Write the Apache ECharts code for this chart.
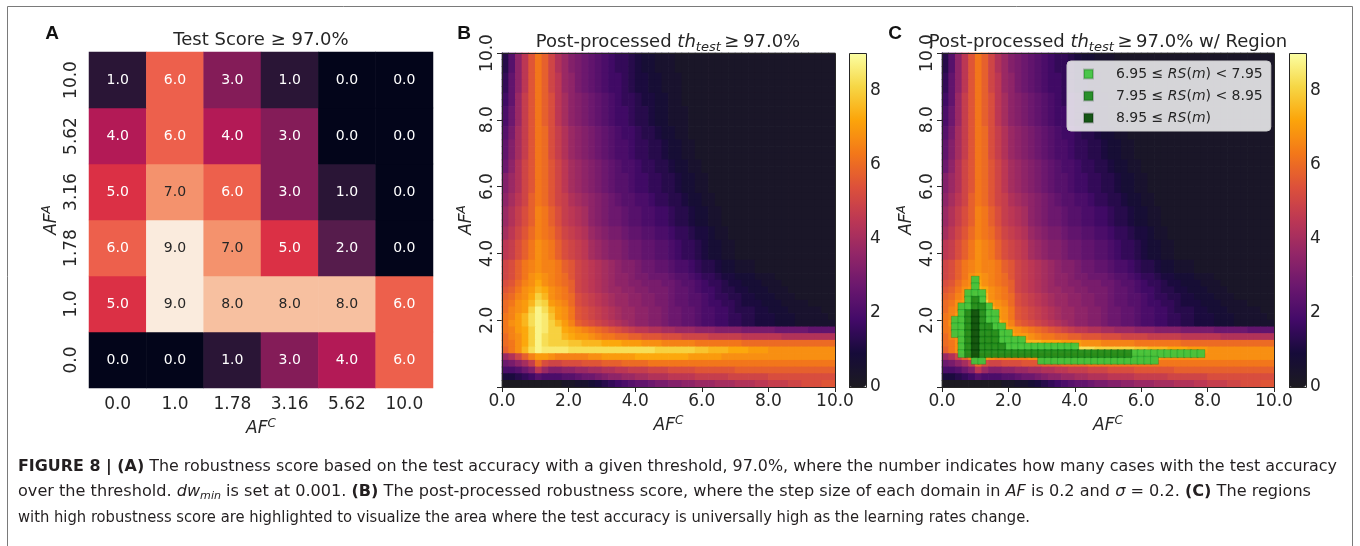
<!DOCTYPE html>
<html>
<head>
<meta charset="utf-8">
<title>Figure 8</title>
<script src="https://cdn.jsdelivr.net/npm/echarts@6.0.0/dist/echarts.min.js"></script>
<style>
html,body{margin:0;padding:0;background:#ffffff;}
#chart{width:1360px;height:546px;}
</style>
</head>
<body>
<div id="chart"></div>
<script>
// ======================= DATA =======================
// Panel A: robustness score (number of cases whose test accuracy >= 97.0%)
const afTickLabels = ['0.0', '1.0', '1.78', '3.16', '5.62', '10.0'];  // AF^C (x) and AF^A (y)
const scoreAtAFA_0_0  = [0, 0, 1, 3, 4, 6];
const scoreAtAFA_1_0  = [5, 9, 8, 8, 8, 6];
const scoreAtAFA_1_78 = [6, 9, 7, 5, 2, 0];
const scoreAtAFA_3_16 = [5, 7, 6, 3, 1, 0];
const scoreAtAFA_5_62 = [4, 6, 4, 3, 0, 0];
const scoreAtAFA_10_0 = [1, 6, 3, 1, 0, 0];

// Panels B and C: post-processed robustness score, 50 x 50 cells (step 0.2 in AF).
// One string per row, top row (AF^A 9.8-10.0) first; one character per cell, AF^C 0.0 -> 10.0.
// Cell value = base-36 digit / 4. A row shorter than 50 repeats its last character.
const heatRows = [
  "59eimpnkhfdcba9876654332221",
  "59eimpnkhfdcba9876654332221",
  "59eimpnkhfdcba9876654332221",
  "6aeimpnkifecba98776544332221",
  "6aeimpnkifecba98776544332221",
  "6aeimpnkifecba98776544332221",
  "7afjmpnligedcba9876654433221",
  "7afjmpnligedcba9876654433221",
  "8bfjmpnligedcba98776554332221",
  "8bfjmpnligedcba98776554332221",
  "8bfjmpnligedcba98776554332221",
  "9cgjmpoljhfedcba9877655433221",
  "9cgjmpoljhfedcba9877655433221",
  "adgjmpoljhfedcba98876655433221",
  "adgjmpoljhfedcba98876655433221",
  "adgjmpoljhfedcba98876655433221",
  "behkmpomkigfedcba98876655433221",
  "behkmpomkigfedcba98876655433221",
  "dfhkmpomkigfedcba998776655433221",
  "dfhkmpomkigfedcba998776655433221",
  "dfhkmpomkigfedcba998776655433221",
  "egiknpomkjhgfedcba998876655433221",
  "egiknpomkjhgfedcba998876655433221",
  "fhjlnqpnljihgedcbba998877655433221",
  "fhjlnqpnljihgedcbba998877655433221",
  "fhjlnqpnljihgedcbba998877655433221",
  "gikmoqpomkjihfedccbaa99887665443221",
  "gikmoqpomkjihfedccbaa99887665443221",
  "ijlnprqpnlkjigfeddcbbaa9987665433221",
  "ijlnprqpnlkjigfeddcbbaa9987665433221",
  "ijlnprqpnlkjigfeddcbbaa9987665433221",
  "klnpqrqqpnmkjihgfeddcbbaa98876554332221",
  "klnpqrqqpnmkjihgfeddcbbaa98876554332221",
  "klnprsrqpomkjihgfeedccbbba9987665443332221",
  "lmoqrtrqponkjihgfeeddcccbba9987665443332221",
  "mnprsutrqpnkjihgffeeddcccbaa9877655443332221",
  "noqrtwurqpolkjihgffeeddccbaa99876655443332221",
  "oprsuxwsrqolkjihgffeeddccbaa9987766544433322221",
  "oqrswzxusrpmlkjihgffeeddcbbaa98877655544333222221",
  "pqsuxzyvsrpmlkjihgffeeddcbbaa988776655444333222221",
  "prsuxzywusqnmlkjihgfeeddcbbaa988776655444333222222",
  "pqstwzywwtsrqponmlkjiihhggfffeeeddddcccccbbbbbaaaa",
  "oqrtwzxwwutssrqppoonnmmmlllkkkkjjjjjiiiiiihhhhhhhh",
  "oprtwzxwwwvvuuutttsssrrrqqqqqpppppppo",
  "npruxzyyyyxxxxxxxxxxxxxwwwwwwvvuuutttsssr",
  "fhknqssrqqqqqrrsssssttttttttsssssr",
  "bcegjolkklllmmmnnnoooop",
  "889bdifddeeffgghhiijjjkkkllllmmmmmmn",
  "44567988899abbcdeeffgghhhiiiijjjjjkkkkkkl",
  "00000000011223456789aabccddeefffggghhhiijjjkklllmm"
];

// Panel C: highlighted region on the AF grid points (0.2 steps), rows from AF^A = 3.2 down to 0.8.
// '.' none, 'a': 6.95 <= RS(m) < 7.95, 'b': 7.95 <= RS(m) < 8.95, 'c': 8.95 <= RS(m)
const regionTopAFA = 3.2;
const regionRows = [
  ".....a",
  ".....a",
  "....aaa",
  "....aba",
  "...aabba",
  "...abcbaa",
  "..aabcbaa",
  "..aabcbbaa",
  "..aabcbbbaa",
  "...abcbbbaaaa",
  "...abcbbbbaaaaaaaaaaa",
  "...abcbbbbbbbbbbbbbbbbbbbbbbbaaaaaaaaaaa",
  ".....aa........aaaaaaaaaaaaaaaaaa"
];
const regionNames = ['low', 'mid', 'high'];
const regionLegend = {
  low:  '{sp| }{n|6.95 ≤ }{i|RS}{n|(}{i|m}{n|) < 7.95}',
  mid:  '{sp| }{n|7.95 ≤ }{i|RS}{n|(}{i|m}{n|) < 8.95}',
  high: '{sp| }{n|8.95 ≤ }{i|RS}{n|(}{i|m}{n|)}'
};

const axisTicksAF = [0, 2, 4, 6, 8, 10];
const colorbarTicks = [0, 2, 4, 6, 8];

// caption lines as [style, text] segments (n normal, b bold, i italic, sub subscript)
const captionLine1 = [['b', 'FIGURE 8 | (A)'], ['n', ' The robustness score based on the test accuracy with a given threshold, 97.0%, where the number indicates how many cases with the test accuracy']];
const captionLine2 = [['n', 'over the threshold. '], ['i', 'dw'], ['sub', 'min'], ['n', ' is set at 0.001. '], ['b', '(B)'],
  ['n', ' The post-processed robustness score, where the step size of each domain in '], ['i', 'AF'], ['n', ' is 0.2 and '], ['i', 'σ'],
  ['n', ' = 0.2. '], ['b', '(C)'], ['n', ' The regions']];
const captionLine3 = [['n', 'with high robustness score are highlighted to visualize the area where the test accuracy is universally high as the learning rates change.']];

// ======================= BUILD =======================
const FONT = "'DejaVu Sans', sans-serif";
const TXT = '#262626';
const rocket = ['#03051a', '#35193e', '#701f57', '#ad1759', '#e13342', '#f37651', '#f6b48f', '#faebdd'];
const inferno = ['#1c1a21', '#160b39', '#420a68', '#6a176e', '#932667', '#bc3754', '#dd513a', '#f37819', '#fca50a', '#f6d746', '#fcffa4'];

const scoreRows = [scoreAtAFA_0_0, scoreAtAFA_1_0, scoreAtAFA_1_78, scoreAtAFA_3_16, scoreAtAFA_5_62, scoreAtAFA_10_0];
const scoreData = [];
scoreRows.forEach((row, yi) => row.forEach((v, xi) => {
  scoreData.push({ value: [xi, yi, v], label: { color: v >= 7 ? TXT : '#ffffff' } });
}));

const N = 50;
const cats = Array.from({ length: N }, (_, k) => String(k));
const heatData = [];
heatRows.forEach((s, k) => {
  const r = heatRows.length - 1 - k;
  const full = s.padEnd(N, s[s.length - 1]).slice(0, N);
  for (let c = 0; c < N; c++) heatData.push([c, r, parseInt(full[c], 36) / 4]);
});

const region = { a: [], b: [], c: [] };
regionRows.forEach((s, k) => {
  const yv = +(regionTopAFA - 0.2 * k).toFixed(1);
  for (let i = 0; i < s.length; i++) {
    if (region[s[i]]) region[s[i]].push([+(0.2 * i).toFixed(1), yv]);
  }
});

// heat cells drawn through the (hidden) category axes, slightly overlapped to avoid seams
function renderCell(params, api) {
  const p = api.coord([api.value(0), api.value(1)]);
  const s = api.size([1, 1]);
  return { type: 'rect',
    shape: { x: p[0] - s[0] / 2 - 0.35, y: p[1] - s[1] / 2 - 0.35, width: s[0] + 0.7, height: s[1] + 0.7 },
    style: { fill: api.visual('color') } };
}

const nameRich = {
  i: { fontFamily: FONT, fontStyle: 'italic', fontSize: 17, color: TXT, lineHeight: 22 },
  sup: { fontFamily: FONT, fontStyle: 'italic', fontSize: 12, color: TXT, lineHeight: 12, verticalAlign: 'top' }
};
const tickLabel = { fontFamily: FONT, fontSize: 17, color: TXT };

function catAxisA(isY) {
  return {
    type: 'category', gridIndex: 0, data: afTickLabels,
    axisLine: { show: false }, axisTick: { show: false }, splitLine: { show: false },
    axisLabel: Object.assign({}, tickLabel, isY ? { rotate: 90, margin: 9 } : { margin: 8 }),
    name: isY ? '{i|AF}{sup|A}' : '{i|AF}{sup|C}', nameLocation: 'middle',
    nameGap: isY ? 26 : 24, nameTextStyle: { rich: nameRich }
  };
}
function hiddenCat(gi) { return { type: 'category', gridIndex: gi, data: cats, show: false }; }
function valAxis(gi, isY) {
  return {
    type: 'value', gridIndex: gi, min: 0, max: 10, interval: 2,
    position: isY ? 'left' : 'bottom',
    axisLine: { show: true, onZero: false, lineStyle: { color: TXT, width: 1 } },
    axisTick: { show: true, length: 5, lineStyle: { color: TXT } },
    splitLine: { show: false },
    axisLabel: Object.assign({}, tickLabel, isY
      ? { rotate: 90, margin: 6, formatter: v => (v === 0 ? '' : v.toFixed(1)) }
      : { margin: 6, formatter: v => v.toFixed(1) }),
    name: isY ? '{i|AF}{sup|A}' : '{i|AF}{sup|C}', nameLocation: 'middle',
    nameGap: isY ? 24 : 25, nameTextStyle: { rich: nameRich }
  };
}
function cbX(gi) { return { type: 'value', gridIndex: gi, show: false, min: 0, max: 1 }; }
function cbY(gi) {
  return {
    type: 'value', gridIndex: gi, min: 0, max: 9, position: 'right',
    axisLine: { show: false }, splitLine: { show: false },
    axisTick: { show: true, length: 5, lineStyle: { color: TXT }, customValues: colorbarTicks },
    axisLabel: Object.assign({}, tickLabel, { margin: 4, customValues: colorbarTicks })
  };
}

const titleRich = {
  n: { fontFamily: FONT, fontSize: 18, fill: TXT, color: TXT, lineHeight: 24 },
  i: { fontFamily: FONT, fontSize: 18, fontStyle: 'italic', fill: TXT, color: TXT, lineHeight: 24 },
  sub: { fontFamily: FONT, fontSize: 13, fontStyle: 'italic', fill: TXT, color: TXT, lineHeight: 13, verticalAlign: 'bottom' }
};
function titleText(x, y, text) {
  return { type: 'text', x: x, y: y, z: 50, silent: true,
    style: { text: text, rich: titleRich, align: 'center', textAlign: 'center', verticalAlign: 'middle', textVerticalAlign: 'middle',
      fontFamily: FONT, fontSize: 18, fill: TXT } };
}
function panelLetter(x, y, t) {
  return { type: 'text', x: x, y: y, z: 50, silent: true,
    style: { text: t, align: 'center', textAlign: 'center', verticalAlign: 'middle', textVerticalAlign: 'middle',
      fontFamily: "'Liberation Sans', Arial, sans-serif", fontWeight: 'bold', fontSize: 19, fill: '#111' } };
}
function frame(x, y, w, h) {
  return { type: 'rect', z: 60, silent: true, shape: { x: x + 0.5, y: y + 0.5, width: w, height: h },
    style: { fill: 'none', stroke: TXT, lineWidth: 1 } };
}

// caption: each line fitted to the width it has in the figure
const capFam = "'Liberation Sans Narrow', 'Arial Narrow', 'Nimbus Sans Narrow', 'DejaVu Sans Condensed', 'Liberation Sans', Arial, sans-serif";
const CAP = 16;
const capColor = '#231f20';
const capFonts = {
  n: 'normal normal ' + CAP + 'px ' + capFam,
  b: 'normal bold ' + CAP + 'px ' + capFam,
  i: 'italic normal ' + CAP + 'px ' + capFam,
  sub: 'italic normal 11px ' + capFam
};
const mctx = document.createElement('canvas').getContext('2d');
function segWidth(segs) { return segs.reduce((w, s) => { mctx.font = capFonts[s[0]]; return w + mctx.measureText(s[1]).width; }, 0); }
function segRich(segs) { return segs.map(s => '{' + s[0] + '|' + s[1] + '}').join(''); }
const capRich = {
  n: { fontFamily: capFam, fontSize: CAP, fill: capColor, lineHeight: 20 },
  b: { fontFamily: capFam, fontSize: CAP, fontWeight: 'bold', fill: capColor, lineHeight: 20 },
  i: { fontFamily: capFam, fontSize: CAP, fontStyle: 'italic', fill: capColor, lineHeight: 20 },
  sub: { fontFamily: capFam, fontSize: 11, fontStyle: 'italic', fill: capColor, lineHeight: 11, verticalAlign: 'bottom' }
};
function capLine(y, segs, right) {
  const sx = (right - 18) / segWidth(segs);
  return { type: 'text', x: 18, y: y, scaleX: sx, scaleY: 1, z: 50, silent: true,
    style: { text: segRich(segs), rich: capRich, align: 'left', textAlign: 'left', verticalAlign: 'middle', textVerticalAlign: 'middle',
      fontFamily: capFam, fontSize: CAP, fill: capColor } };
}

const option = {
  animation: false,
  backgroundColor: '#ffffff',
  textStyle: { fontFamily: FONT },
  grid: [
    { left: 89, top: 52, width: 344, height: 336 },
    { left: 502, top: 53, width: 333, height: 334 },
    { left: 942, top: 53, width: 332, height: 334 },
    { left: 849, top: 53, width: 17, height: 334 },
    { left: 1289, top: 53, width: 17, height: 334 }
  ],
  xAxis: [catAxisA(false), hiddenCat(1), valAxis(1, false), hiddenCat(2), valAxis(2, false), cbX(3), cbX(4)],
  yAxis: [catAxisA(true), hiddenCat(1), valAxis(1, true), hiddenCat(2), valAxis(2, true), cbY(3), cbY(4)],
  visualMap: [
    { type: 'continuous', seriesIndex: 0, dimension: 2, min: 0, max: 9, show: false, inRange: { color: rocket } },
    { type: 'continuous', seriesIndex: 1, dimension: 2, min: 0, max: 9, show: true, calculable: false, hoverLink: false,
      left: 849, top: 53, itemWidth: 17, itemHeight: 334, padding: 0, orient: 'vertical', inRange: { color: inferno } },
    { type: 'continuous', seriesIndex: 2, dimension: 2, min: 0, max: 9, show: true, calculable: false, hoverLink: false,
      left: 1289, top: 53, itemWidth: 17, itemHeight: 334, padding: 0, orient: 'vertical', inRange: { color: inferno } }
  ],
  legend: {
    data: regionNames, orient: 'vertical', left: 1067, top: 61,
    itemWidth: 9, itemHeight: 9, itemGap: 2, icon: 'rect',
    padding: [3, 8, 3, 16], backgroundColor: 'rgba(255,255,255,0.82)', borderColor: '#cccccc', borderWidth: 1, borderRadius: 4,
    selectedMode: false,
    formatter: name => regionLegend[name],
    textStyle: { fontFamily: FONT, fontSize: 14, color: TXT, lineHeight: 20,
      rich: {
        sp: { width: 18, fontSize: 14, lineHeight: 20 },
        n: { fontFamily: FONT, fontSize: 14, color: TXT, lineHeight: 20 },
        i: { fontFamily: FONT, fontSize: 14, fontStyle: 'italic', color: TXT, lineHeight: 20 }
      } }
  },
  series: [
    { type: 'heatmap', xAxisIndex: 0, yAxisIndex: 0, data: scoreData,
      label: { show: true, fontFamily: FONT, fontSize: 14, formatter: p => p.value[2].toFixed(1) },
      emphasis: { disabled: true } },
    { type: 'custom', xAxisIndex: 1, yAxisIndex: 1, data: heatData, renderItem: renderCell,
      encode: { x: 0, y: 1 }, silent: true },
    { type: 'custom', xAxisIndex: 3, yAxisIndex: 3, data: heatData, renderItem: renderCell,
      encode: { x: 0, y: 1 }, silent: true },
    { type: 'scatter', name: 'low', xAxisIndex: 4, yAxisIndex: 4, data: region.a, symbol: 'rect', symbolSize: 8, z: 5,
      itemStyle: { color: '#3ec43e', opacity: 0.92, borderColor: 'rgba(0,60,0,0.25)', borderWidth: 0.8 } },
    { type: 'scatter', name: 'mid', xAxisIndex: 4, yAxisIndex: 4, data: region.b, symbol: 'rect', symbolSize: 8, z: 5,
      itemStyle: { color: '#1a8a1a', opacity: 0.92, borderColor: 'rgba(0,40,0,0.25)', borderWidth: 0.8 } },
    { type: 'scatter', name: 'high', xAxisIndex: 4, yAxisIndex: 4, data: region.c, symbol: 'rect', symbolSize: 8, z: 5,
      itemStyle: { color: '#0b4f0b', opacity: 0.95, borderColor: 'rgba(0,20,0,0.25)', borderWidth: 0.8 } }
  ],
  graphic: [
    { type: 'line', silent: true, z: 40, shape: { x1: 7.5, y1: 6.5, x2: 1352.5, y2: 6.5 }, style: { stroke: '#7a7a7a', lineWidth: 1 } },
    { type: 'line', silent: true, z: 40, shape: { x1: 7.5, y1: 6.5, x2: 7.5, y2: 546 }, style: { stroke: '#7a7a7a', lineWidth: 1 } },
    { type: 'line', silent: true, z: 40, shape: { x1: 1352.5, y1: 6.5, x2: 1352.5, y2: 546 }, style: { stroke: '#7a7a7a', lineWidth: 1 } },
    frame(502, 53, 333, 334),
    frame(942, 53, 332, 334),
    frame(849, 53, 17, 334),
    frame(1289, 53, 17, 334),
    panelLetter(52, 34, 'A'),
    panelLetter(464, 34, 'B'),
    panelLetter(895, 34, 'C'),
    titleText(261, 40, '{n|Test Score ≥ 97.0%}'),
    titleText(668, 42, '{n|Post-processed }{i|th}{sub|test}{n|\u2009≥\u200997.0%}'),
    titleText(1108, 42, '{n|Post-processed }{i|th}{sub|test}{n|\u2009≥\u200997.0% w/ Region}'),
    capLine(467, captionLine1, 1337),
    capLine(492, captionLine2, 1311),
    capLine(518, captionLine3, 1030)
  ]
};

const chart = echarts.init(document.getElementById('chart'), null, { renderer: 'canvas', width: 1360, height: 546 });
chart.setOption(option);
</script>
</body>
</html>
